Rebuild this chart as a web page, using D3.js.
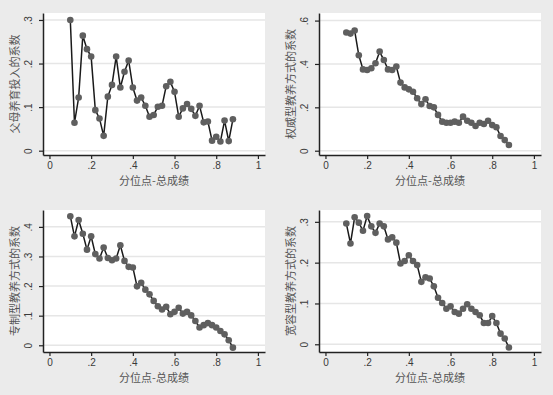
<!DOCTYPE html>
<html>
<head>
<meta charset="utf-8">
<script src="https://cdn.jsdelivr.net/npm/d3@7"></script>
<style>
    body { margin: 0; background: #ebebeb; }
    #chart { width: 553px; height: 395px; }
    .tick text { font-family: "Liberation Sans", Arial, sans-serif; font-size: 10px; fill: #3a3a3a; }
    .axis-title { font-family: "Noto Sans CJK SC", sans-serif; font-size: 11px; fill: #555; }
</style>
</head>
<body>
<div id="chart"></div>
<script>

// quantile points (x)
const quantiles = [0.10, 0.12, 0.14, 0.16, 0.18, 0.20, 0.22, 0.24, 0.26, 0.28,
    0.30, 0.32, 0.34, 0.36, 0.38, 0.40, 0.42, 0.44, 0.46, 0.48,
    0.50, 0.52, 0.54, 0.56, 0.58, 0.60, 0.62, 0.64, 0.66, 0.68,
    0.70, 0.72, 0.74, 0.76, 0.78, 0.80, 0.82, 0.84, 0.86, 0.88];

// coefficients
const parentInput = [0.300, 0.064, 0.122, 0.264, 0.233, 0.216, 0.093, 0.074, 0.034, 0.124,
    0.151, 0.216, 0.145, 0.181, 0.207, 0.145, 0.115, 0.122, 0.103, 0.078,
    0.082, 0.101, 0.103, 0.148, 0.158, 0.135, 0.078, 0.097, 0.107, 0.096,
    0.080, 0.103, 0.065, 0.067, 0.023, 0.032, 0.021, 0.069, 0.022, 0.072];

const authoritative = [0.545, 0.540, 0.554, 0.440, 0.375, 0.372, 0.380, 0.403, 0.457, 0.418,
    0.375, 0.372, 0.388, 0.314, 0.292, 0.283, 0.272, 0.242, 0.215, 0.237,
    0.206, 0.200, 0.165, 0.134, 0.129, 0.129, 0.134, 0.129, 0.157, 0.138,
    0.129, 0.114, 0.129, 0.123, 0.138, 0.118, 0.108, 0.068, 0.049, 0.026];

const authoritarian = [0.436, 0.368, 0.423, 0.377, 0.323, 0.368, 0.308, 0.293, 0.330, 0.295,
    0.287, 0.293, 0.338, 0.285, 0.265, 0.263, 0.199, 0.211, 0.188, 0.172,
    0.150, 0.132, 0.121, 0.130, 0.105, 0.113, 0.127, 0.107, 0.113, 0.101,
    0.082, 0.060, 0.068, 0.075, 0.068, 0.060, 0.048, 0.037, 0.017, -0.008];

const permissive = [0.296, 0.247, 0.311, 0.298, 0.278, 0.314, 0.289, 0.273, 0.296, 0.289,
    0.257, 0.262, 0.249, 0.198, 0.204, 0.218, 0.204, 0.194, 0.153, 0.164,
    0.161, 0.142, 0.114, 0.101, 0.087, 0.093, 0.079, 0.075, 0.087, 0.098,
    0.087, 0.079, 0.071, 0.052, 0.052, 0.069, 0.052, 0.026, 0.014, -0.008];

const xTicks = [0, 0.2, 0.4, 0.6, 0.8, 1];
const yTicksA = [0, 0.1, 0.2, 0.3];
const yTicksB = [0, 0.2, 0.4, 0.6];
const yTicksC = [0, 0.1, 0.2, 0.3, 0.4];
const yTicksD = [0, 0.1, 0.2, 0.3];

const xTitle = "分位点-总成绩";

class CoefPanel {

    constructor(svg, opts) {
        const vis = this;
        vis.svg = svg;
        vis.opts = opts;
        vis.initVis();
    }

    initVis() {
        const vis = this;
        const o = vis.opts;

        vis.width = 222;
        vis.height = 142;

        vis.g = vis.svg.append("g")
            .attr("transform", "translate(" + o.left + "," + o.top + ")");

        vis.g.append("rect")
            .attr("width", vis.width)
            .attr("height", vis.height)
            .attr("fill", "#fff");

        vis.x = d3.scaleLinear()
            .domain([-0.031, 1.034])
            .range([0, vis.width]);

        vis.y = d3.scaleLinear()
            .domain(o.yDomain)
            .range([vis.height, 0]);

        // horizontal grid
        vis.g.selectAll(".grid")
            .data(o.yTicks)
            .enter().append("line")
            .attr("class", "grid")
            .attr("x1", 0)
            .attr("x2", vis.width)
            .attr("y1", d => vis.y(d))
            .attr("y2", d => vis.y(d))
            .attr("stroke", "#e6e6e6")
            .attr("stroke-width", 1.5);

        const fmt = d => d === 0 ? "0" : d === 1 ? "1" : d3.format(".1f")(d).replace(/^0/, "");

        let xAxis = vis.g.append("g")
            .attr("transform", "translate(0," + vis.height + ")")
            .call(d3.axisBottom(vis.x).tickValues(xTicks).tickFormat(fmt).tickSizeInner(4).tickSizeOuter(0).tickPadding(3));

        let yAxis = vis.g.append("g")
            .call(d3.axisLeft(vis.y).tickValues(o.yTicks).tickFormat(fmt).tickSizeInner(4).tickSizeOuter(0).tickPadding(3));

        [xAxis, yAxis].forEach(a => {
            a.select(".domain").attr("stroke", "#222").attr("stroke-width", 1.5);
            a.selectAll(".tick line").attr("stroke", "#222").attr("stroke-width", 1.2);
        });

        // rotated y tick labels like Stata
        yAxis.selectAll(".tick text")
            .attr("text-anchor", "middle")
            .attr("dy", 0)
            .attr("x", 0)
            .attr("transform", "translate(-11,0) rotate(-90)");

        vis.g.append("text")
            .attr("class", "axis-title")
            .attr("text-anchor", "middle")
            .attr("transform", "translate(-24," + vis.height / 2 + ") rotate(-90)")
            .text(o.yTitle);

        vis.g.append("text")
            .attr("class", "axis-title")
            .attr("text-anchor", "middle")
            .attr("x", vis.width / 2)
            .attr("y", vis.height + 30)
            .attr("font-size", "12px")
            .text(xTitle);

        vis.updateVis();
    }

    updateVis() {
        const vis = this;
        const data = quantiles.map((q, i) => ({q: q, v: vis.opts.values[i]}));

        let line = d3.line()
            .x(d => vis.x(d.q))
            .y(d => vis.y(d.v));

        vis.g.append("path")
            .datum(data)
            .attr("d", line)
            .attr("fill", "none")
            .attr("stroke", "#1a1a1a")
            .attr("stroke-width", 1.5);

        vis.g.selectAll(".pt")
            .data(data)
            .enter().append("circle")
            .attr("class", "pt")
            .attr("cx", d => vis.x(d.q))
            .attr("cy", d => vis.y(d.v))
            .attr("r", 3.3)
            .attr("fill", "#5f5f5f");
    }
}

const svg = d3.select("#chart").append("svg")
    .attr("width", 553)
    .attr("height", 395);

new CoefPanel(svg, {left: 43, top: 13, values: parentInput, yTicks: yTicksA,
    yDomain: [-0.0099, 0.316], yTitle: "父母养育投入的系数"});
new CoefPanel(svg, {left: 319, top: 13, values: authoritative, yTicks: yTicksB,
    yDomain: [-0.0198, 0.635], yTitle: "权威型教养方式的系数"});
new CoefPanel(svg, {left: 43, top: 210, values: authoritarian, yTicks: yTicksC,
    yDomain: [-0.0227, 0.457], yTitle: "专制型教养方式的系数"});
new CoefPanel(svg, {left: 319, top: 210, values: permissive, yTicks: yTicksD,
    yDomain: [-0.0189, 0.329], yTitle: "宽容型教养方式的系数"});

</script>
</body>
</html>
